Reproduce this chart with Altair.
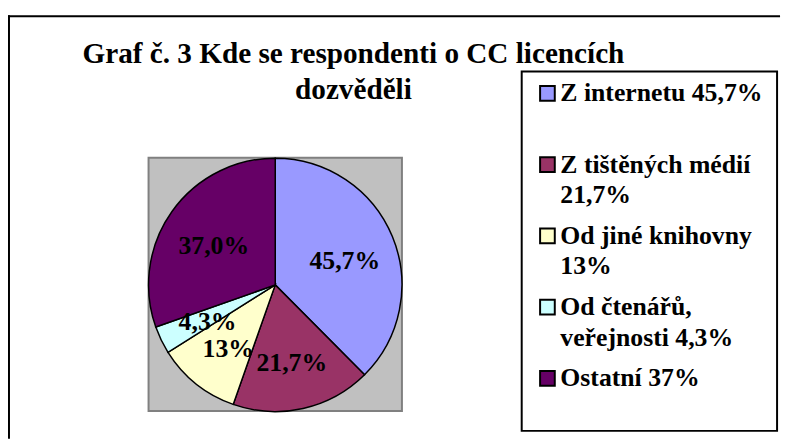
import altair as alt
import pandas as pd

# ---- data ----
sources = ["Z internetu", "Z tištěných médií", "Od jiné knihovny",
           "Od čtenářů, veřejnosti", "Ostatní"]
values = [45.7, 21.7, 13.0, 4.3, 37.0]
slice_labels = ["45,7%", "21,7%", "13%", "4,3%", "37,0%"]
legend_labels = ["Z internetu 45,7%", "Z tištěných médií\n21,7%",
                 "Od jiné knihovny\n13%", "Od čtenářů,\nveřejnosti 4,3%",
                 "Ostatní 37%"]
colors = ["#9999FF", "#993366", "#FFFFCC", "#CCFFFF", "#660066"]
title_lines = ["Graf č. 3 Kde se respondenti o CC licencích", "dozvěděli"]

df = pd.DataFrame({
    "source": sources,
    "value": values,
    "label": slice_labels,
    "legend": legend_labels,
    "idx": list(range(len(sources))),
})

FONT = "Liberation Serif"
W, H = 784, 433
CX, CY, R = 270, 277.5, 128
one = alt.Data(values=[{}])

color_scale = alt.Scale(domain=sources, range=colors)
legend_y = alt.Y("source:N", scale=alt.Scale(domain=sources, range=[84, 372], padding=0), axis=None)

frame_top = alt.Chart(one).mark_rule(stroke="black", strokeWidth=2).encode(
    x=alt.value(0), x2=alt.value(W - 4), y=alt.value(6))
frame_left = alt.Chart(one).mark_rule(stroke="black", strokeWidth=2).encode(
    x=alt.value(1), y=alt.value(5), y2=alt.value(H))

plot_bg = alt.Chart(one).mark_rect(fill="#C0C0C0", stroke="#808080", strokeWidth=2).encode(
    x=alt.value(142), x2=alt.value(398), y=alt.value(149), y2=alt.value(405))

pie = alt.Chart(df).mark_arc(radius=R, stroke="black", strokeWidth=1.5).encode(
    theta=alt.Theta("value:Q", stack=True),
    color=alt.Color("source:N", scale=color_scale, legend=None),
    order=alt.Order("idx:Q"),
    x=alt.value(CX), y=alt.value(CY))

labels = alt.Chart(df).mark_text(radius=76, dy=5, font=FONT, fontSize=26, fontWeight="bold",
                                 color="black").encode(
    theta=alt.Theta("value:Q", stack=True),
    order=alt.Order("idx:Q"),
    text="label:N",
    x=alt.value(CX), y=alt.value(CY))

title = alt.Chart(one).mark_text(text=title_lines, font=FONT, fontSize=29.5, fontWeight="bold",
                                 lineHeight=37, align="center", baseline="alphabetic",
                                 color="black").encode(
    x=alt.value(349), y=alt.value(53))

legend_box = alt.Chart(one).mark_rect(fill="white", stroke="black", strokeWidth=2).encode(
    x=alt.value(519), x2=alt.value(777), y=alt.value(62), y2=alt.value(425))

legend_sym = alt.Chart(df).mark_square(size=220, filled=True, opacity=1, stroke="black",
                                       strokeWidth=2).encode(
    y=legend_y,
    x=alt.value(545),
    color=alt.Color("source:N", scale=color_scale, legend=None))

legend_txt = alt.Chart(df).mark_text(align="left", baseline="alphabetic", dy=8, lineBreak="\n",
                                     lineHeight=31, font=FONT, fontSize=26, fontWeight="bold",
                                     color="black").encode(
    y=legend_y,
    x=alt.value(558),
    text="legend:N")

chart = alt.layer(frame_top, frame_left, plot_bg, pie, labels, title,
                  legend_box, legend_sym, legend_txt).properties(
    width=W, height=H, autosize=alt.AutoSizeParams(type="none"), padding=0
).configure_view(stroke="transparent")

chart.save("out.html", embed_options={"renderer": "svg", "actions": False})
